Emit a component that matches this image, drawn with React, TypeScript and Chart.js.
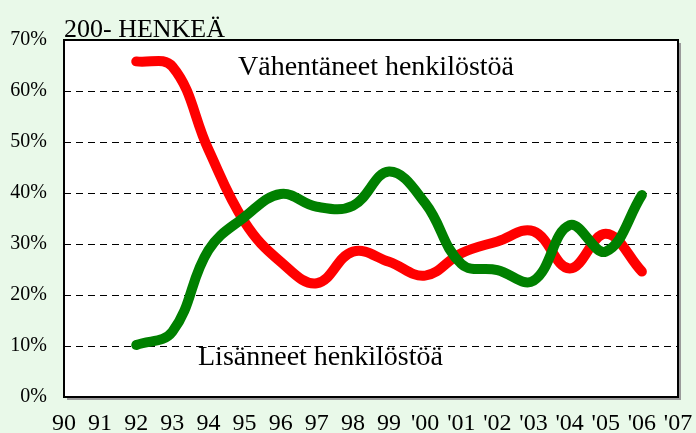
import React, { useEffect, useRef } from "react";
import { Chart, registerables } from "chart.js";

Chart.register(...registerables);

const categories = ["90", "91", "92", "93", "94", "95", "96", "97", "98", "99", "'00", "'01", "'02", "'03", "'04", "'05", "'06", "'07"];
const yTicks = [0, 10, 20, 30, 40, 50, 60, 70];
const lisanneet = [null, null, 10.2, 12.8, 28.8, 35.3, 39.8, 37.3, 37.5, 44.2, 38.0, 26.1, 24.9, 22.8, 33.7, 28.5, 39.6, null];
const vahentaneet = [null, null, 65.8, 64.8, 48.5, 34.3, 26.5, 22.3, 28.5, 26.5, 23.8, 28.2, 30.5, 32.5, 25.2, 32.0, 24.6, null];
const titleText = "200- HENKEÄ";
const labelRed = "Vähentäneet henkilöstöä";
const labelGreen = "Lisänneet henkilöstöä";

const SERIF = "'Liberation Serif', 'DejaVu Serif', serif";

const decorPlugin = {
  id: "decor",
  beforeDraw(chart: any) {
    const { ctx, chartArea: a } = chart;
    ctx.save();
    ctx.fillStyle = "#e9f9e9";
    ctx.fillRect(0, 0, chart.width, chart.height);
    ctx.fillStyle = "#ffffff";
    ctx.fillRect(a.left, a.top, a.right - a.left, a.bottom - a.top);
    ctx.restore();
  },
  afterDatasetsDraw(chart: any) {
    const { ctx, chartArea: a } = chart;
    ctx.save();
    ctx.strokeStyle = "#9a9a9a";
    ctx.lineWidth = 2;
    ctx.beginPath();
    ctx.moveTo(a.right + 2, a.top + 3);
    ctx.lineTo(a.right + 2, a.bottom + 2);
    ctx.lineTo(a.left + 3, a.bottom + 2);
    ctx.stroke();
    ctx.strokeStyle = "#000000";
    ctx.lineWidth = 2;
    ctx.strokeRect(a.left, a.top, a.right - a.left, a.bottom - a.top);
    ctx.fillStyle = "#000000";
    ctx.textBaseline = "alphabetic";
    ctx.textAlign = "left";
    ctx.font = `26px ${SERIF}`;
    ctx.fillText(titleText, a.left, a.top - 3);
    ctx.font = `28px ${SERIF}`;
    ctx.fillText(labelRed, a.left + 174, a.top + 35);
    ctx.fillText(labelGreen, a.left + 134, a.top + 325);
    ctx.restore();
  },
};

export default function App() {
  const ref = useRef<HTMLCanvasElement>(null);
  useEffect(() => {
    document.body.style.margin = "0";
    const chart = new Chart(ref.current!, {
      type: "line",
      data: {
        labels: categories,
        datasets: [
          {
            label: labelGreen,
            data: lisanneet,
            borderColor: "#008000",
            borderWidth: 10,
            pointRadius: 0,
            tension: 0.4,
            borderCapStyle: "round",
            borderJoinStyle: "round",
            fill: false,
          },
          {
            label: labelRed,
            data: vahentaneet,
            borderColor: "#ff0000",
            borderWidth: 10,
            pointRadius: 0,
            tension: 0.4,
            borderCapStyle: "round",
            borderJoinStyle: "round",
            fill: false,
          },
        ],
      },
      options: {
        responsive: false,
        animation: false,
        layout: { padding: { top: 40, right: 18, left: 0, bottom: 0 } },
        plugins: { legend: { display: false }, tooltip: { enabled: false } },
        scales: {
          x: {
            type: "category",
            offset: false,
            grid: { display: false, drawTicks: false },
            border: { display: false },
            ticks: {
              color: "#000",
              font: { family: SERIF, size: 24 },
              padding: 12,
              maxRotation: 0,
              autoSkip: false,
            },
            afterFit(scale: any) {
              scale.height = 36;
              scale.paddingRight = 0;
              scale.paddingLeft = 0;
            },
          },
          y: {
            min: 0,
            max: 70,
            afterBuildTicks(scale: any) {
              scale.ticks = yTicks.map((v) => ({ value: v }));
            },
            grid: {
              color: "#000",
              lineWidth: 1,
              drawTicks: false,
            },
            border: { display: false, dash: [7, 5] },
            ticks: {
              color: "#000",
              font: { family: SERIF, size: 20 },
              padding: 17,
              callback: (v: any) => `${v}%`,
            },
            afterFit(scale: any) {
              scale.width = 64;
            },
          },
        },
      },
      plugins: [decorPlugin],
    } as any);
    return () => chart.destroy();
  }, []);
  return <canvas ref={ref} width={696} height={433} style={{ display: "block" }} />;
}
